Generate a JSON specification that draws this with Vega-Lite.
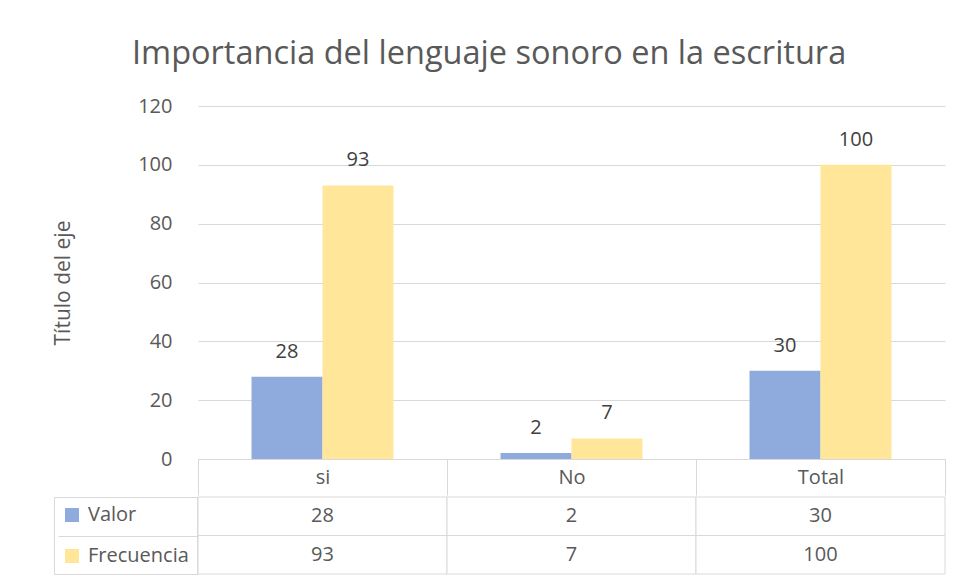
{
  "$schema": "https://vega.github.io/schema/vega-lite/v6.json",
  "padding": {"left": 52, "top": 37, "right": 10, "bottom": 5},
  "background": "white",
  "config": {"font": "Open Sans", "view": {"stroke": null}},
  "title": {"text": "Importancia del lenguaje sonoro en la escritura", "fontSize": 32.5, "fontWeight": "normal", "color": "#595959", "anchor": "middle", "dx": -10, "offset": 26},
  "datasets": {
    "tabla": [
      {"cat": "si", "serie": "Valor", "valor": 28},
      {"cat": "si", "serie": "Frecuencia", "valor": 93},
      {"cat": "No", "serie": "Valor", "valor": 2},
      {"cat": "No", "serie": "Frecuencia", "valor": 7},
      {"cat": "Total", "serie": "Valor", "valor": 30},
      {"cat": "Total", "serie": "Frecuencia", "valor": 100}
    ]
  },
  "data": {"name": "tabla"},
  "resolve": {"legend": {"color": "independent"}},
  "spacing": 0,
  "vconcat": [
    {
      "width": 747,
      "height": 353,
      "encoding": {
        "x": {"field": "cat", "type": "nominal", "sort": ["si", "No", "Total"], "scale": {"paddingInner": 0, "paddingOuter": 0},
          "axis": {"title": null, "labelAngle": 0, "domainColor": "#d9d9d9", "tickBand": "extent", "tickColor": "#d9d9d9", "tickSize": 36, "labelPadding": -18, "labelBaseline": "middle", "labelFontSize": 20, "labelColor": "#595959", "grid": false}},
        "xOffset": {"field": "serie", "type": "nominal", "sort": ["Valor", "Frecuencia"], "scale": {"paddingInner": 0, "paddingOuter": 0.754}},
        "y": {"field": "valor", "type": "quantitative", "scale": {"domain": [0, 120], "nice": false},
          "axis": {"values": [0, 20, 40, 60, 80, 100, 120], "domain": false, "ticks": false, "tickSize": 0, "grid": true, "gridColor": "#d9d9d9", "labelPadding": 26, "labelFontSize": 20, "labelColor": "#595959", "title": "Título del eje", "titleFontSize": 21, "titleFontWeight": "normal", "titleColor": "#595959", "titlePadding": 64}}
      },
      "layer": [
        {
          "mark": {"type": "bar"},
          "encoding": {
            "color": {"field": "serie", "type": "nominal", "scale": {"domain": ["Valor", "Frecuencia"], "range": ["#8faadc", "#ffe699"]}, "legend": null}
          }
        },
        {
          "mark": {"type": "text", "baseline": "alphabetic", "dy": -19, "fontSize": 20, "color": "#404040"},
          "encoding": {"text": {"field": "valor", "type": "quantitative"}}
        }
      ]
    },
    {
      "width": 747,
      "height": 77,
      "encoding": {
        "x": {"field": "cat", "type": "nominal", "sort": ["si", "No", "Total"], "scale": {"paddingInner": 0, "paddingOuter": 0}, "axis": null},
        "y": {"field": "serie", "type": "nominal", "sort": ["Valor", "Frecuencia"], "scale": {"paddingInner": 0, "paddingOuter": 0},
          "axis": {"orient": "left", "title": null, "labels": false, "domain": false, "grid": false, "ticks": true, "tickBand": "extent", "tickSize": 140, "tickColor": "#d9d9d9"}}
      },
      "layer": [
        {"mark": {"type": "rect", "fill": "white", "stroke": "#d9d9d9", "strokeWidth": 1}},
        {"mark": {"type": "text", "fontSize": 20, "color": "#595959"}, "encoding": {"text": {"field": "valor", "type": "quantitative"}}},
        {
          "mark": {"type": "rect", "opacity": 0},
          "encoding": {
            "color": {"field": "serie", "type": "nominal", "scale": {"domain": ["Valor", "Frecuencia"], "range": ["#8faadc", "#ffe699"]},
              "legend": {"orient": "left", "offset": -140, "padding": 8, "strokeColor": "#d9d9d9", "title": null, "symbolType": "square", "symbolSize": 196, "symbolStrokeWidth": 0, "labelFontSize": 20, "labelColor": "#595959", "labelOffset": 6, "rowPadding": 21, "labelFont": "Open Sans"}}
          }
        }
      ]
    }
  ]
}
